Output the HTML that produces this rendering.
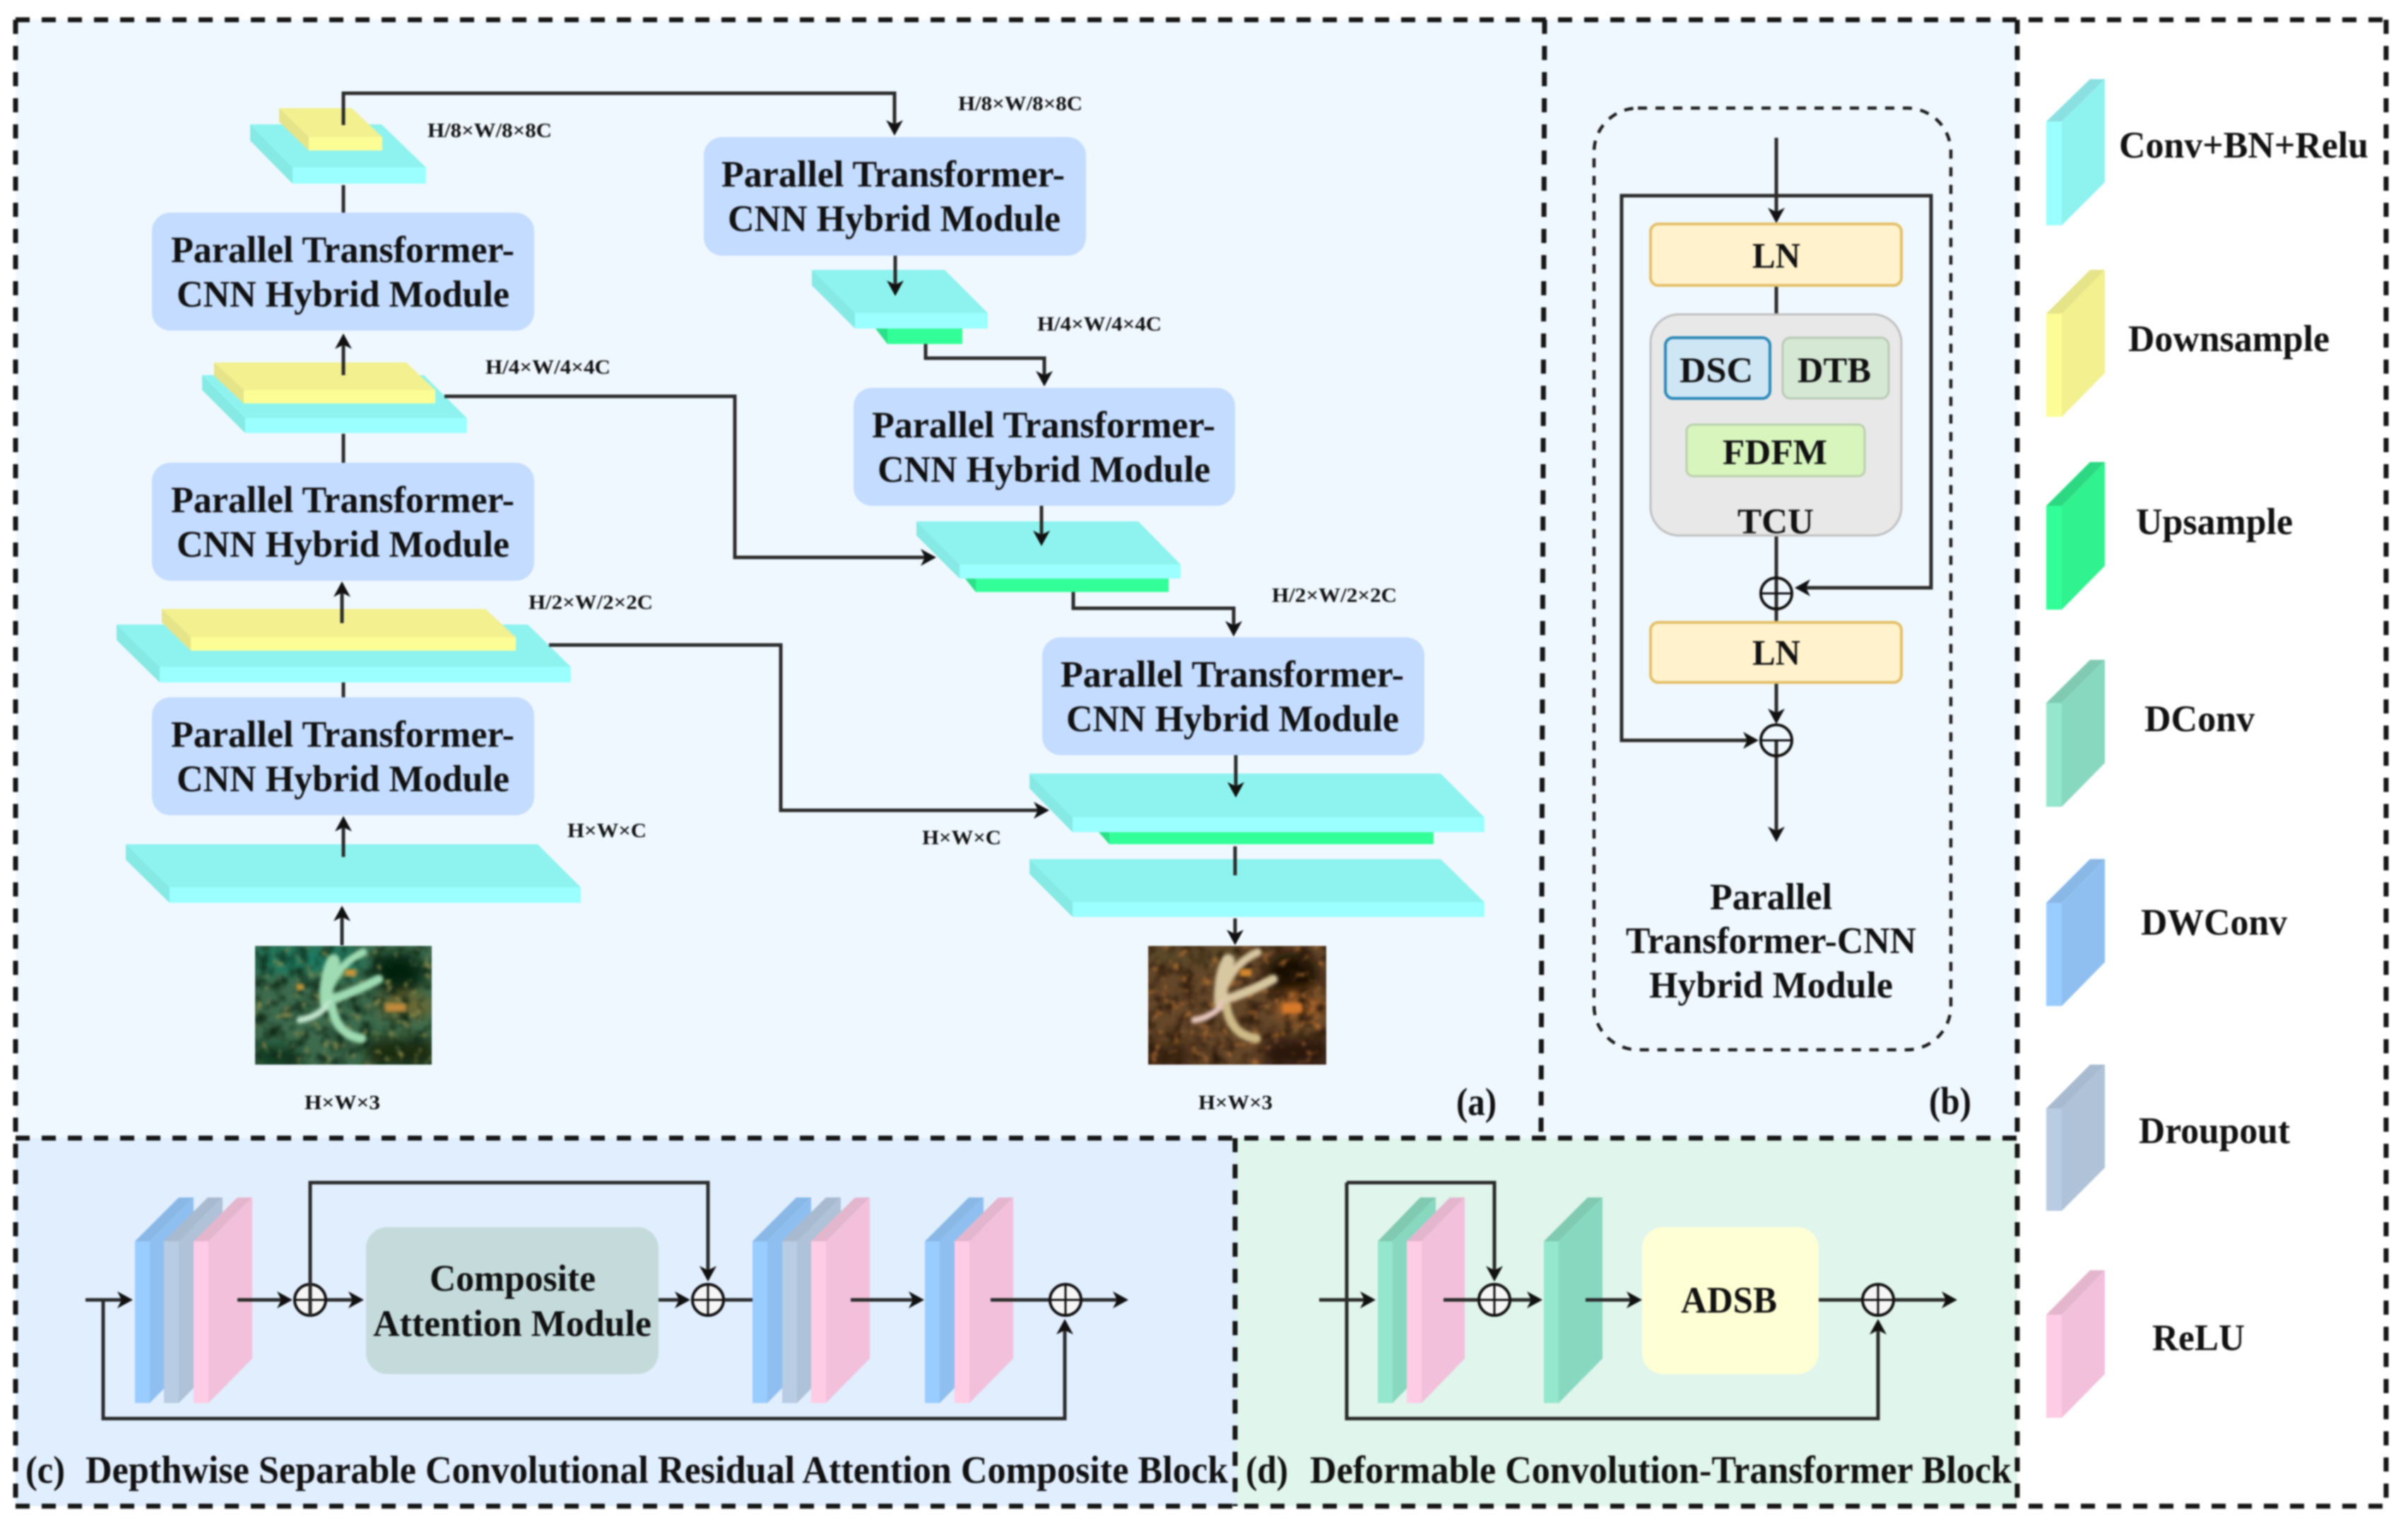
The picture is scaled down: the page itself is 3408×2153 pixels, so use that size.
<!DOCTYPE html>
<html><head><meta charset="utf-8"><title>Network architecture diagram</title>
<style>
html,body{margin:0;padding:0;background:#fff;width:3408px;height:2153px;overflow:hidden}
svg{display:block;filter:blur(1.1px)}
text{font-family:"Liberation Serif",serif;font-weight:bold;fill:#111}
.m{font-size:53px}.s{font-size:29px}.b{font-size:51px}.t{font-size:55px}
.ln{fill:none;stroke:#2b2b2b;stroke-width:5}
.a{marker-end:url(#ah)}
.d{fill:none;stroke:#161616;stroke-width:7;stroke-dasharray:20 17}
.o{fill:#f6f6f6;stroke:#111;stroke-width:4}
.mod{fill:#c4dcff}
.ct{fill:#8ef3ef}.cf{fill:#9cffff}.cs{fill:#86e9e3}
.yt{fill:#f2f08f}.yf{fill:#fdfd96}.ys{fill:#e6e488}
.gf{fill:#33ff99}.gs{fill:#2ce088}
.bt{fill:#8ab8e6}.br{fill:#8fbff0}.bf{fill:#99ccff}
.rt{fill:#a8bacf}.rr{fill:#afc2d8}.rf{fill:#b8cce4}
.pt{fill:#e4b6ce}.pr{fill:#f2c0da}.pf{fill:#ffcce6}
.tt{fill:#80cab2}.tr{fill:#88d8c0}.tf{fill:#94e6cc}
</style></head><body>
<svg width="3408" height="2153" viewBox="0 0 3408 2153" xmlns="http://www.w3.org/2000/svg">
<defs>
<marker id="ah" viewBox="0 0 22 24" markerUnits="userSpaceOnUse" markerWidth="22" markerHeight="24" refX="17" refY="12" orient="auto"><path d="M22,12 L0,0 L6,12 L0,24Z" fill="#111"/></marker>
<clipPath id="c1"><rect x="361" y="1339" width="250" height="168"/></clipPath>
<clipPath id="c2"><rect x="1625" y="1339" width="252" height="168"/></clipPath>
<filter id="bl" x="-30%" y="-30%" width="160%" height="160%"><feGaussianBlur stdDeviation="9"/></filter>
<filter id="bs" x="-20%" y="-20%" width="140%" height="140%"><feGaussianBlur stdDeviation="2.4"/></filter>
<filter id="n1" x="0" y="0" width="1" height="1" color-interpolation-filters="sRGB"><feTurbulence type="fractalNoise" baseFrequency=".055" numOctaves="3" seed="4"/><feColorMatrix values="0 0 0 0 .06 0 0 0 0 .16 0 0 0 0 .09 2.4 0 0 0 -1"/><feGaussianBlur stdDeviation="1.5"/></filter>
<filter id="n2" x="0" y="0" width="1" height="1" color-interpolation-filters="sRGB"><feTurbulence type="fractalNoise" baseFrequency=".07" numOctaves="2" seed="9"/><feColorMatrix values="0 0 0 0 .55 0 0 0 0 .55 0 0 0 0 .3 0 3.5 0 0 -2.05"/><feGaussianBlur stdDeviation="1.5"/></filter>
<filter id="n3" x="0" y="0" width="1" height="1" color-interpolation-filters="sRGB"><feTurbulence type="fractalNoise" baseFrequency=".055" numOctaves="3" seed="4"/><feColorMatrix values="0 0 0 0 .17 0 0 0 0 .1 0 0 0 0 .04 2.4 0 0 0 -1"/><feGaussianBlur stdDeviation="1.5"/></filter>
<filter id="n4" x="0" y="0" width="1" height="1" color-interpolation-filters="sRGB"><feTurbulence type="fractalNoise" baseFrequency=".07" numOctaves="2" seed="9"/><feColorMatrix values="0 0 0 0 .72 0 0 0 0 .45 0 0 0 0 .2 0 3.5 0 0 -2.05"/><feGaussianBlur stdDeviation="1.5"/></filter>
</defs>

<!-- panel backgrounds -->
<rect x="22" y="28" width="2833" height="1583" fill="#f0f8ff"/>
<rect x="22" y="1611" width="1728" height="521" fill="#e1eefe"/>
<rect x="1750" y="1611" width="1105" height="521" fill="#e0f5ec"/>

<!-- panel borders -->
<path class="d" d="M22,28H3377"/><path class="d" d="M22,28V2132"/><path class="d" d="M22,2132H3377"/>
<path class="d" d="M3377,28V2132"/><path class="d" d="M22,1611H2855"/><path class="d" d="M2186,28L2181,1611"/>
<path class="d" d="M2855,28V2132"/><path class="d" d="M1748,1611V2132"/>

<!-- plates -->
<g>
<polygon class="ct" points="354,176 540,176 603,237 414,237"/><rect class="cf" x="414" y="237" width="189" height="23"/><polygon class="cs" points="354,176 414,237 414,260 354,199"/>
<polygon class="yt" points="395,153 498,153 541,194 437,194"/><rect class="yf" x="437" y="194" width="104" height="19"/><polygon class="ys" points="395,153 437,194 437,213 395,172"/>

<polygon class="ct" points="286,531 600,531 661,592 347,592"/><rect class="cf" x="347" y="592" width="314" height="21"/><polygon class="cs" points="286,531 347,592 347,613 286,552"/>
<polygon class="yt" points="303,513 575,513 616,552 345,552"/><rect class="yf" x="345" y="552" width="271" height="19"/><polygon class="ys" points="303,513 345,552 345,571 303,532"/>

<polygon class="ct" points="165,884 747,884 808,944 226,944"/><rect class="cf" x="226" y="944" width="582" height="22"/><polygon class="cs" points="165,884 226,944 226,966 165,906"/>
<polygon class="yt" points="229,862 687,862 730,902 270,902"/><rect class="yf" x="270" y="902" width="460" height="19"/><polygon class="ys" points="229,862 270,902 270,921 229,881"/>

<polygon class="ct" points="178,1195 761,1195 822,1256 240,1256"/><rect class="cf" x="240" y="1256" width="582" height="22"/><polygon class="cs" points="178,1195 240,1256 240,1278 178,1217"/>

<polygon class="ct" points="1149,382 1337,382 1398,443 1210,443"/><rect class="cf" x="1210" y="443" width="188" height="22"/><polygon class="cs" points="1149,382 1210,443 1210,465 1149,404"/>
<polygon class="gs" points="1239,465 1256,465 1256,487"/><rect class="gf" x="1256" y="465" width="106" height="22"/>

<polygon class="ct" points="1297,738 1611,738 1671,799 1358,799"/><rect class="cf" x="1358" y="799" width="313" height="20"/><polygon class="cs" points="1297,738 1358,799 1358,819 1297,758"/>
<polygon class="gs" points="1366,819 1381,819 1381,838"/><rect class="gf" x="1381" y="819" width="273" height="19"/>

<polygon class="ct" points="1457,1095 2039,1095 2101,1157 1518,1157"/><rect class="cf" x="1518" y="1157" width="583" height="21"/><polygon class="cs" points="1457,1095 1518,1157 1518,1178 1457,1116"/>
<polygon class="gs" points="1555,1178 1570,1178 1570,1195"/><rect class="gf" x="1570" y="1178" width="459" height="17"/>

<polygon class="ct" points="1457,1216 2039,1216 2101,1277 1518,1277"/><rect class="cf" x="1518" y="1277" width="583" height="21"/><polygon class="cs" points="1457,1216 1518,1277 1518,1298 1457,1237"/>
</g>

<!-- modules -->
<rect class="mod" x="215" y="301" width="541" height="167" rx="26"/>
<text class="m" x="242" y="371" textLength="486" lengthAdjust="spacingAndGlyphs">Parallel Transformer-</text>
<text class="m" x="250" y="434" textLength="471" lengthAdjust="spacingAndGlyphs">CNN Hybrid Module</text>
<rect class="mod" x="215" y="655" width="541" height="167" rx="26"/>
<text class="m" x="242" y="725" textLength="486" lengthAdjust="spacingAndGlyphs">Parallel Transformer-</text>
<text class="m" x="250" y="788" textLength="471" lengthAdjust="spacingAndGlyphs">CNN Hybrid Module</text>
<rect class="mod" x="215" y="987" width="541" height="167" rx="26"/>
<text class="m" x="242" y="1057" textLength="486" lengthAdjust="spacingAndGlyphs">Parallel Transformer-</text>
<text class="m" x="250" y="1120" textLength="471" lengthAdjust="spacingAndGlyphs">CNN Hybrid Module</text>
<rect class="mod" x="996" y="194" width="541" height="168" rx="26"/>
<text class="m" x="1021" y="264" textLength="486" lengthAdjust="spacingAndGlyphs">Parallel Transformer-</text>
<text class="m" x="1030" y="327" textLength="471" lengthAdjust="spacingAndGlyphs">CNN Hybrid Module</text>
<rect class="mod" x="1208" y="549" width="540" height="167" rx="26"/>
<text class="m" x="1234" y="619" textLength="486" lengthAdjust="spacingAndGlyphs">Parallel Transformer-</text>
<text class="m" x="1242" y="682" textLength="471" lengthAdjust="spacingAndGlyphs">CNN Hybrid Module</text>
<rect class="mod" x="1475" y="902" width="541" height="167" rx="26"/>
<text class="m" x="1501" y="972" textLength="486" lengthAdjust="spacingAndGlyphs">Parallel Transformer-</text>
<text class="m" x="1509" y="1035" textLength="471" lengthAdjust="spacingAndGlyphs">CNN Hybrid Module</text>

<!-- photos -->
<g clip-path="url(#c1)">
<rect x="361" y="1339" width="250" height="168" fill="#3d6b4e"/>
<g filter="url(#bl)">
<rect x="361" y="1339" width="150" height="40" fill="#1d7a62"/>
<ellipse cx="562" cy="1378" rx="38" ry="30" fill="#04200f"/>
<rect x="361" y="1480" width="60" height="30" fill="#0f3a22"/>
<rect x="520" y="1470" width="95" height="40" fill="#1e2a10"/>
<ellipse cx="575" cy="1425" rx="40" ry="18" fill="#6d6a35"/>
</g>
<rect x="361" y="1339" width="250" height="168" filter="url(#n1)"/>
<rect x="361" y="1339" width="250" height="168" filter="url(#n2)"/>
<g fill="none" stroke="#9fdcb4" stroke-linecap="round" filter="url(#bs)">
<path d="M462,1420 Q460,1385 472,1360" stroke-width="19"/>
<path d="M468,1395 Q485,1360 514,1348" stroke-width="11"/>
<path d="M468,1415 Q500,1405 536,1386" stroke-width="13"/>
<path d="M466,1420 Q450,1440 424,1444" stroke-width="9" stroke="#c5e6d0"/>
<path d="M470,1425 Q476,1465 512,1470" stroke-width="13"/>
</g>
<rect x="488" y="1372" width="16" height="10" fill="#c9963a" filter="url(#bs)"/>
<rect x="420" y="1393" width="10" height="8" fill="#d29a34" filter="url(#bs)"/>
<rect x="545" y="1420" width="30" height="12" fill="#c08a3a" filter="url(#bs)"/>
</g>
<g clip-path="url(#c2)">
<rect x="1625" y="1339" width="252" height="168" fill="#65472a"/>
<g filter="url(#bl)">
<rect x="1625" y="1339" width="130" height="30" fill="#5a4a2c"/>
<ellipse cx="1828" cy="1378" rx="38" ry="30" fill="#140b03"/>
<rect x="1625" y="1480" width="60" height="30" fill="#38230f"/>
<rect x="1790" y="1470" width="90" height="40" fill="#2a1808"/>
<ellipse cx="1840" cy="1425" rx="35" ry="18" fill="#a8652a"/>
</g>
<rect x="1625" y="1339" width="252" height="168" filter="url(#n3)"/>
<rect x="1625" y="1339" width="252" height="168" filter="url(#n4)"/>
<g fill="none" stroke="#d8c8a2" stroke-linecap="round" filter="url(#bs)">
<path d="M1728,1420 Q1726,1385 1738,1360" stroke-width="19"/>
<path d="M1734,1395 Q1751,1360 1780,1348" stroke-width="11"/>
<path d="M1734,1415 Q1766,1405 1802,1386" stroke-width="13"/>
<path d="M1732,1420 Q1716,1440 1690,1444" stroke-width="9" stroke="#e8c8c0"/>
<path d="M1736,1425 Q1742,1465 1778,1470" stroke-width="13" stroke="#cdbb88"/>
</g>
<rect x="1755" y="1372" width="16" height="10" fill="#d98a2a" filter="url(#bs)"/>
<rect x="1815" y="1420" width="28" height="14" fill="#d9792a" filter="url(#bs)"/>
</g>

<!-- panel (a) connectors -->
<path class="ln a" d="M486,177V132H1266V187"/>
<path class="ln" d="M486,262V301"/>
<path class="ln a" d="M486,531V477"/>
<path class="ln" d="M486,614V655"/>
<path class="ln a" d="M484,882V828"/>
<path class="ln" d="M486,966V987"/>
<path class="ln a" d="M486,1213V1160"/>
<path class="ln a" d="M484,1338V1287"/>
<path class="ln a" d="M629,561H1040V789H1320"/>
<path class="ln a" d="M777,913H1105V1147H1480"/>
<path class="ln a" d="M1267,362V414"/>
<path class="ln a" d="M1310,487V507H1478V542"/>
<path class="ln a" d="M1474,716V768"/>
<path class="ln a" d="M1519,838V861H1746V896"/>
<path class="ln a" d="M1749,1069V1124"/>
<path class="ln" d="M1748,1198V1239"/>
<path class="ln a" d="M1748,1300V1333"/>

<!-- panel (a) labels -->
<text class="s" x="605" y="194" textLength="176" lengthAdjust="spacingAndGlyphs">H/8×W/8×8C</text>
<text class="s" x="1356" y="156" textLength="176" lengthAdjust="spacingAndGlyphs">H/8×W/8×8C</text>
<text class="s" x="687" y="529" textLength="177" lengthAdjust="spacingAndGlyphs">H/4×W/4×4C</text>
<text class="s" x="1468" y="468" textLength="176" lengthAdjust="spacingAndGlyphs">H/4×W/4×4C</text>
<text class="s" x="748" y="862" textLength="176" lengthAdjust="spacingAndGlyphs">H/2×W/2×2C</text>
<text class="s" x="1800" y="852" textLength="177" lengthAdjust="spacingAndGlyphs">H/2×W/2×2C</text>
<text class="s" x="803" y="1185" textLength="112" lengthAdjust="spacingAndGlyphs">H×W×C</text>
<text class="s" x="1305" y="1195" textLength="112" lengthAdjust="spacingAndGlyphs">H×W×C</text>
<text class="s" x="431" y="1570" textLength="107" lengthAdjust="spacingAndGlyphs">H×W×3</text>
<text class="s" x="1696" y="1570" textLength="105" lengthAdjust="spacingAndGlyphs">H×W×3</text>
<text class="t" x="2061" y="1578" textLength="57" lengthAdjust="spacingAndGlyphs">(a)</text>

<!-- panel (b) -->
<rect x="2256" y="153" width="505" height="1333" rx="62" fill="none" stroke="#1c1c1c" stroke-width="4.5" stroke-dasharray="13 12"/>
<path class="ln a" d="M2514,277H2295V1048H2484"/>
<path class="ln a" d="M2514,277H2733V832H2545"/>
<path class="ln a" d="M2514,195V311"/>
<path class="ln" d="M2514,404V445M2514,758V881"/>
<path class="ln a" d="M2514,966V1020"/>
<path class="ln a" d="M2514,1048V1187"/>
<rect x="2336" y="317" width="355" height="87" rx="11" fill="#fff2cc" stroke="#e3c069" stroke-width="4"/>
<text class="b" x="2480" y="379" textLength="68" lengthAdjust="spacingAndGlyphs">LN</text>
<rect x="2336" y="445" width="355" height="313" rx="40" fill="#e8e8e8" stroke="#bfbfbf" stroke-width="3"/>
<rect x="2357" y="478" width="148" height="86" rx="11" fill="#cfe6f5" stroke="#2b88b8" stroke-width="4"/>
<text class="b" x="2377" y="541" textLength="104" lengthAdjust="spacingAndGlyphs">DSC</text>
<rect x="2523" y="478" width="150" height="86" rx="11" fill="#d5e8d4" stroke="#b9c9b5" stroke-width="3"/>
<text class="b" x="2544" y="541" textLength="104" lengthAdjust="spacingAndGlyphs">DTB</text>
<rect x="2387" y="601" width="252" height="73" rx="9" fill="#d7f5bd" stroke="#b9cfae" stroke-width="3"/>
<text class="b" x="2438" y="657" textLength="148" lengthAdjust="spacingAndGlyphs">FDFM</text>
<text class="b" x="2459" y="755" textLength="108" lengthAdjust="spacingAndGlyphs">TCU</text>
<rect x="2336" y="881" width="355" height="85" rx="11" fill="#fff2cc" stroke="#e3c069" stroke-width="4"/>
<text class="b" x="2480" y="941" textLength="68" lengthAdjust="spacingAndGlyphs">LN</text>
<circle cx="2514" cy="840" r="22" fill="none" stroke="#111" stroke-width="4"/><path d="M2492,840H2536" stroke="#111" stroke-width="3"/>
<circle cx="2514" cy="1048" r="22" fill="none" stroke="#111" stroke-width="4"/><path d="M2492,1048H2536" stroke="#111" stroke-width="3"/>
<text class="m" x="2420" y="1287" textLength="173" lengthAdjust="spacingAndGlyphs">Parallel</text>
<text class="m" x="2301" y="1349" textLength="411" lengthAdjust="spacingAndGlyphs">Transformer-CNN</text>
<text class="m" x="2334" y="1412" textLength="345" lengthAdjust="spacingAndGlyphs">Hybrid Module</text>
<text class="t" x="2730" y="1577" textLength="60" lengthAdjust="spacingAndGlyphs">(b)</text>

<!-- legend -->
<g>
<polygon class="ct" style="fill:#8ae0e0" points="2896,172 2958,112 2979,112 2918,172"/><polygon class="ct" points="2918,172 2979,112 2979,258 2918,319"/><rect class="cf" x="2896" y="172" width="22" height="147"/>
<polygon class="ys" points="2896,444 2958,382 2979,382 2918,444"/><polygon class="yt" points="2918,444 2979,382 2979,528 2918,590"/><rect class="yf" x="2896" y="444" width="22" height="146"/>
<polygon fill="#2cd882" points="2896,716 2958,654 2979,654 2918,716"/><polygon fill="#30f28f" points="2918,716 2979,654 2979,801 2918,863"/><rect class="gf" x="2896" y="716" width="22" height="147"/>
<polygon class="tt" points="2896,995 2958,934 2979,934 2918,995"/><polygon class="tr" points="2918,995 2979,934 2979,1080 2918,1142"/><rect class="tf" x="2896" y="995" width="22" height="147"/>
<polygon class="bt" points="2896,1278 2958,1216 2979,1216 2918,1278"/><polygon class="br" points="2918,1278 2979,1216 2979,1362 2918,1424"/><rect class="bf" x="2896" y="1278" width="22" height="146"/>
<polygon class="rt" points="2896,1569 2958,1507 2979,1507 2918,1569"/><polygon class="rr" points="2918,1569 2979,1507 2979,1653 2918,1714"/><rect class="rf" x="2896" y="1569" width="22" height="145"/>
<polygon class="pt" points="2896,1861 2958,1798 2979,1798 2918,1861"/><polygon class="pr" points="2918,1861 2979,1798 2979,1945 2918,2007"/><rect class="pf" x="2896" y="1861" width="22" height="146"/>
</g>
<text class="m" x="2999" y="223" textLength="353" lengthAdjust="spacingAndGlyphs">Conv+BN+Relu</text>
<text class="m" x="3012" y="497" textLength="285" lengthAdjust="spacingAndGlyphs">Downsample</text>
<text class="m" x="3023" y="756" textLength="222" lengthAdjust="spacingAndGlyphs">Upsample</text>
<text class="m" x="3035" y="1035" textLength="156" lengthAdjust="spacingAndGlyphs">DConv</text>
<text class="m" x="3030" y="1323" textLength="207" lengthAdjust="spacingAndGlyphs">DWConv</text>
<text class="m" x="3027" y="1618" textLength="214" lengthAdjust="spacingAndGlyphs">Droupout</text>
<text class="m" x="3046" y="1911" textLength="131" lengthAdjust="spacingAndGlyphs">ReLU</text>

<!-- panel (c) stacks -->
<g>
<polygon class="bt" points="191,1757 253,1695 274,1695 212,1757"/><polygon class="br" points="212,1757 274,1695 274,1923 212,1986"/><rect class="bf" x="191" y="1757" width="21" height="229"/>
<polygon class="rt" points="232,1757 294,1695 315,1695 253,1757"/><polygon class="rr" points="253,1757 315,1695 315,1923 253,1986"/><rect class="rf" x="232" y="1757" width="21" height="229"/>
<polygon class="pt" points="274,1757 336,1695 357,1695 295,1757"/><polygon class="pr" points="295,1757 357,1695 357,1923 295,1986"/><rect class="pf" x="274" y="1757" width="21" height="229"/>

<polygon class="bt" points="1065,1757 1127,1695 1148,1695 1086,1757"/><polygon class="br" points="1086,1757 1148,1695 1148,1923 1086,1986"/><rect class="bf" x="1065" y="1757" width="21" height="229"/>
<polygon class="rt" points="1107,1757 1169,1695 1190,1695 1128,1757"/><polygon class="rr" points="1128,1757 1190,1695 1190,1923 1128,1986"/><rect class="rf" x="1107" y="1757" width="21" height="229"/>
<polygon class="pt" points="1148,1757 1210,1695 1231,1695 1169,1757"/><polygon class="pr" points="1169,1757 1231,1695 1231,1923 1169,1986"/><rect class="pf" x="1148" y="1757" width="21" height="229"/>

<polygon class="bt" points="1309,1757 1371,1695 1392,1695 1330,1757"/><polygon class="br" points="1330,1757 1392,1695 1392,1923 1330,1986"/><rect class="bf" x="1309" y="1757" width="21" height="229"/>
<polygon class="pt" points="1351,1757 1413,1695 1434,1695 1372,1757"/><polygon class="pr" points="1372,1757 1434,1695 1434,1923 1372,1986"/><rect class="pf" x="1351" y="1757" width="21" height="229"/>
</g>
<rect x="518" y="1737" width="414" height="208" rx="30" fill="#c5dbdb"/>
<text class="m" x="608" y="1827" textLength="235" lengthAdjust="spacingAndGlyphs">Composite</text>
<text class="m" x="528" y="1891" textLength="394" lengthAdjust="spacingAndGlyphs">Attention Module</text>
<path class="ln a" d="M121,1840H183"/>
<path class="ln a" d="M146,1840V2008H1507V1872"/>
<path class="ln a" d="M336,1840H409"/>
<path class="ln a" d="M461,1840H510"/>
<path class="ln a" d="M932,1840H972"/>
<path class="ln" d="M1025,1840H1065"/>
<path class="ln a" d="M1204,1840H1303"/>
<path class="ln" d="M1402,1840H1485"/>
<path class="ln a" d="M1531,1840H1592"/>
<circle class="o" cx="439" cy="1840" r="22"/><path d="M417,1840H461" stroke="#111" stroke-width="3"/>
<circle class="o" cx="1002" cy="1840" r="22"/><path d="M980,1840H1024M1002,1818V1862" stroke="#111" stroke-width="3"/>
<circle class="o" cx="1508" cy="1840" r="22"/><path d="M1486,1840H1530M1508,1818V1862" stroke="#111" stroke-width="3"/>
<path class="ln a" d="M439,1862V1674H1002V1809"/>
<text class="t" x="36" y="2099" textLength="56" lengthAdjust="spacingAndGlyphs">(c)</text>
<text class="t" x="121" y="2099" textLength="1617" lengthAdjust="spacingAndGlyphs">Depthwise Separable Convolutional Residual Attention Composite Block</text>

<!-- panel (d) -->
<g>
<polygon class="tt" points="1950,1757 2010,1695 2032,1695 1971,1757"/><polygon class="tr" points="1971,1757 2032,1695 2032,1923 1971,1986"/><rect class="tf" x="1950" y="1757" width="21" height="229"/>
<polygon class="pt" points="1991,1757 2052,1695 2073,1695 2012,1757"/><polygon class="pr" points="2012,1757 2073,1695 2073,1923 2012,1986"/><rect class="pf" x="1991" y="1757" width="21" height="229"/>
<polygon class="tt" points="2185,1757 2247,1695 2268,1695 2206,1757"/><polygon class="tr" points="2206,1757 2268,1695 2268,1923 2206,1986"/><rect class="tf" x="2185" y="1757" width="21" height="229"/>
</g>
<rect x="2324" y="1737" width="250" height="208" rx="30" fill="#ffffd5"/>
<text class="m" x="2379" y="1858" textLength="136" lengthAdjust="spacingAndGlyphs">ADSB</text>
<path class="ln a" d="M1867,1840H1942"/>
<path class="ln a" d="M1906,1674V2008H2658V1872"/>
<path class="ln a" d="M2043,1840H2178"/>
<path class="ln a" d="M2244,1840H2319"/>
<path class="ln a" d="M2574,1840H2765"/>
<path class="ln a" d="M1906,1674H2115V1809"/>
<circle class="o" cx="2115" cy="1840" r="22"/><path d="M2093,1840H2137M2115,1818V1862" stroke="#111" stroke-width="3"/>
<circle class="o" cx="2658" cy="1840" r="22"/><path d="M2636,1840H2680M2658,1818V1862" stroke="#111" stroke-width="3"/>
<text class="t" x="1763" y="2099" textLength="60" lengthAdjust="spacingAndGlyphs">(d)</text>
<text class="t" x="1854" y="2099" textLength="993" lengthAdjust="spacingAndGlyphs">Deformable Convolution-Transformer Block</text>
</svg>
</body></html>
